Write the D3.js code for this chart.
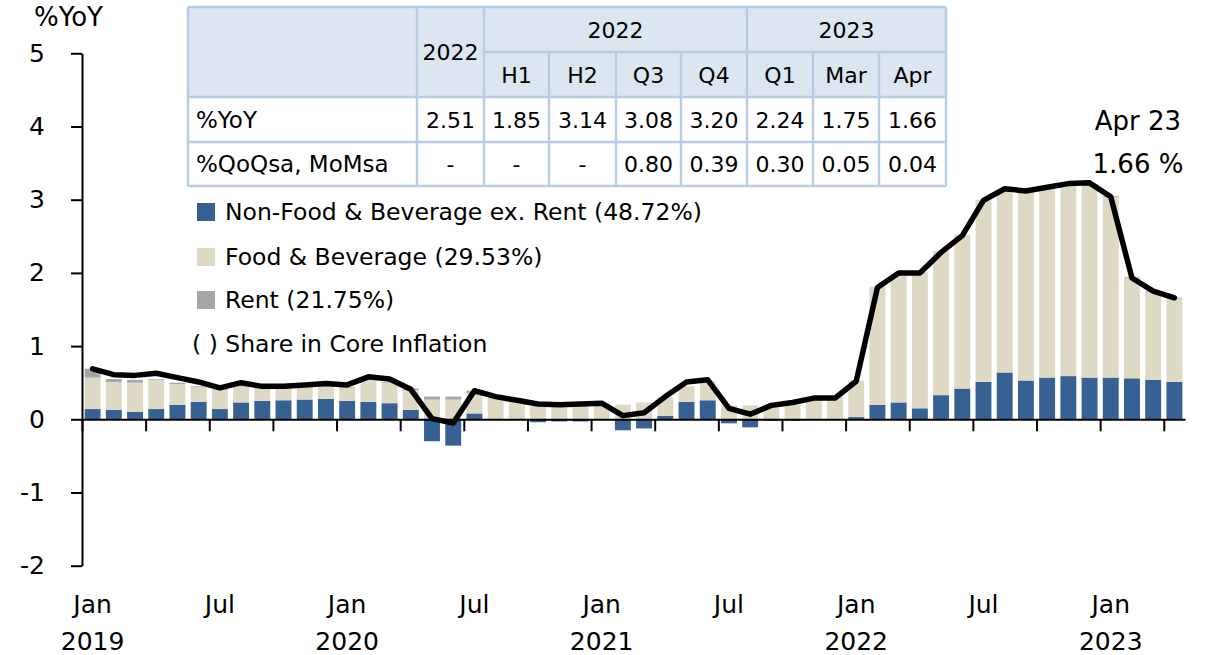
<!DOCTYPE html>
<html>
<head>
<meta charset="utf-8">
<script src="https://cdn.jsdelivr.net/npm/d3@7"></script>
<style>
  html, body { margin: 0; padding: 0; background: #ffffff; }
  svg { display: block; }
  text { font-family: "DejaVu Sans", "Noto Sans", sans-serif; fill: #000; }
</style>
</head>
<body>
<div id="chart"></div>
<script>
// ---------------- DATA ----------------
const months = [
  "Jan 2019","Feb 2019","Mar 2019","Apr 2019","May 2019","Jun 2019","Jul 2019","Aug 2019","Sep 2019","Oct 2019","Nov 2019","Dec 2019",
  "Jan 2020","Feb 2020","Mar 2020","Apr 2020","May 2020","Jun 2020","Jul 2020","Aug 2020","Sep 2020","Oct 2020","Nov 2020","Dec 2020",
  "Jan 2021","Feb 2021","Mar 2021","Apr 2021","May 2021","Jun 2021","Jul 2021","Aug 2021","Sep 2021","Oct 2021","Nov 2021","Dec 2021",
  "Jan 2022","Feb 2022","Mar 2022","Apr 2022","May 2022","Jun 2022","Jul 2022","Aug 2022","Sep 2022","Oct 2022","Nov 2022","Dec 2022",
  "Jan 2023","Feb 2023","Mar 2023","Apr 2023"
];
const nonFood = [
  0.14, 0.13, 0.10, 0.14, 0.20, 0.24, 0.14, 0.23, 0.25, 0.26, 0.27, 0.28,
  0.25, 0.24, 0.22, 0.13, -0.30, -0.36, 0.08, 0.00, -0.01, -0.04, -0.03, -0.03,
  0.00, -0.15, -0.125, 0.045, 0.24, 0.26, -0.055, -0.11, -0.02, -0.02, 0.00, 0.00,
  0.03, 0.20, 0.23, 0.15, 0.33, 0.42, 0.51, 0.64, 0.53, 0.57, 0.59, 0.57,
  0.57, 0.56, 0.54, 0.51
];
const food = [
  0.43, 0.38, 0.40, 0.40, 0.28, 0.20, 0.26, 0.22, 0.16, 0.16, 0.17, 0.17,
  0.18, 0.30, 0.28, 0.27, 0.27, 0.27, 0.28, 0.31, 0.27, 0.18, 0.18, 0.18,
  0.19, 0.20, 0.23, 0.26, 0.21, 0.26, 0.19, 0.19, 0.20, 0.20, 0.31, 0.31,
  0.50, 1.61, 1.74, 1.86, 1.97, 2.10, 2.49, 2.48, 2.58, 2.59, 2.61, 2.63,
  2.47, 1.37, 1.20, 1.14
];
const rent = [
  0.12, 0.04, 0.04, 0.01, 0.02, 0.01, 0.01, 0.01, 0.01, 0.01, 0.01, 0.01,
  0.01, 0.01, 0.01, 0.02, 0.04, 0.04, 0.03, 0.01, 0.01, 0.00, 0.00, 0.00,
  0.00, 0.00, 0.00, 0.00, 0.00, 0.00, 0.00, 0.00, 0.00, 0.00, 0.00, 0.00,
  0.00, 0.00, 0.00, 0.00, 0.00, 0.00, 0.00, 0.01, 0.01, 0.01, 0.01, 0.01,
  0.01, 0.01, 0.01, 0.01
];
const coreYoY = [
  0.69, 0.61, 0.60, 0.63, 0.57, 0.51, 0.43, 0.50, 0.45, 0.45, 0.47, 0.49,
  0.47, 0.58, 0.55, 0.41, 0.01, -0.05, 0.39, 0.31, 0.26, 0.21, 0.20, 0.21,
  0.22, 0.05, 0.09, 0.31, 0.51, 0.54, 0.15, 0.07, 0.19, 0.23, 0.29, 0.29,
  0.52, 1.80, 2.00, 2.00, 2.28, 2.51, 2.99, 3.15, 3.12, 3.17, 3.22, 3.23,
  3.04, 1.93, 1.75, 1.66
];
const seriesNames = ["Non-Food & Beverage ex. Rent (48.72%)", "Food & Beverage (29.53%)", "Rent (21.75%)"];
const seriesColors = ["#376192", "#ddd9c4", "#a6a6a6"];
const yTicks = [-2, -1, 0, 1, 2, 3, 4, 5];
const monthLabels = ["Jan", "Jul"];

// table
const tableRowLabels = ["%YoY", "%QoQsa, MoMsa"];
const tableYearGroups = [{label: "2022", span: 4}, {label: "2023", span: 3}];
const tableCols = ["2022", "H1", "H2", "Q3", "Q4", "Q1", "Mar", "Apr"];
const tableYoY = ["2.51", "1.85", "3.14", "3.08", "3.20", "2.24", "1.75", "1.66"];
const tableQoQ = ["-", "-", "-", "0.80", "0.39", "0.30", "0.05", "0.04"];

// ---------------- LAYOUT ----------------
const W = 1213, H = 655;
const plotLeft = 82, plotRight = 1185;
const svg = d3.select("#chart").append("svg").attr("width", W).attr("height", H);

const idx = months.map((d, i) => i);
const x = d3.scaleBand().domain(idx).range([plotLeft, plotRight]).paddingInner(0.25).paddingOuter(0.125);
const xb = d3.scaleLinear().domain([0, months.length]).range([plotLeft, plotRight]);
const y = d3.scaleLinear().domain([-2, 5]).range([565.7, 53.3]);

// stacked bars
const rows = idx.map(i => ({i, nf: nonFood[i], fb: food[i], rt: rent[i]}));
const stack = d3.stack().keys(["nf", "fb", "rt"]).offset(d3.stackOffsetDiverging);
const layers = stack(rows);
svg.append("g").selectAll("g").data(layers).join("g")
  .attr("fill", (d, k) => seriesColors[k])
  .selectAll("rect").data(d => d).join("rect")
  .attr("x", d => x(d.data.i))
  .attr("width", x.bandwidth())
  .attr("y", d => y(Math.max(d[0], d[1])))
  .attr("height", d => Math.abs(y(d[0]) - y(d[1])));

// y axis
const yAxis = svg.append("g").attr("transform", `translate(${plotLeft},0)`)
  .call(d3.axisLeft(y).tickValues(yTicks).tickSize(11).tickSizeOuter(0).tickPadding(26).tickFormat(d => String(d)));
yAxis.select(".domain").attr("stroke", "#000").attr("stroke-width", 2);
yAxis.selectAll(".tick line").attr("stroke", "#000").attr("stroke-width", 2);
yAxis.selectAll(".tick text").attr("font-size", 25).attr("font-family", "DejaVu Sans").attr("fill", "#000");

// x axis at zero
const xTickVals = d3.range(0, months.length, 3);
const xAxis = svg.append("g").attr("transform", `translate(0,${y(0)})`)
  .call(d3.axisBottom(xb).tickValues(xTickVals).tickSize(12).tickSizeOuter(0).tickFormat(""));
xAxis.select(".domain").attr("stroke", "#000").attr("stroke-width", 2);
xAxis.selectAll(".tick line").attr("stroke", "#000").attr("stroke-width", 2);

// x labels
const labelIdx = idx.filter(i => i % 6 === 0);
svg.append("g").selectAll("text").data(labelIdx).join("text")
  .attr("x", i => x(i) + x.bandwidth() / 2)
  .attr("y", 613)
  .attr("text-anchor", "middle")
  .attr("font-size", 25)
  .text(i => monthLabels[(i % 12) / 6]);
svg.append("g").selectAll("text").data(labelIdx.filter(i => i % 12 === 0)).join("text")
  .attr("x", i => x(i) + x.bandwidth() / 2)
  .attr("y", 650)
  .attr("text-anchor", "middle")
  .attr("font-size", 25)
  .text(i => months[i].split(" ")[1]);

// line
const line = d3.line().x((d, i) => x(i) + x.bandwidth() / 2).y(d => y(d));
svg.append("path").datum(coreYoY)
  .attr("fill", "none").attr("stroke", "#000").attr("stroke-width", 5.5)
  .attr("stroke-linejoin", "round").attr("stroke-linecap", "round")
  .attr("d", line);

// axis title
svg.append("text").attr("x", 34).attr("y", 26).attr("font-size", 26).text("%YoY");

// annotation
const last = months.length - 1;
svg.append("text").attr("x", 1138).attr("y", 130).attr("text-anchor", "middle").attr("font-size", 26).text("Apr 23");
svg.append("text").attr("x", 1138).attr("y", 173).attr("text-anchor", "middle").attr("font-size", 26)
  .text(coreYoY[last].toFixed(2) + " %");

// legend
const legend = svg.append("g");
const legY = [212, 257, 300];
seriesNames.forEach((name, k) => {
  legend.append("rect").attr("x", 197).attr("y", legY[k] - 9).attr("width", 18).attr("height", 18).attr("fill", seriesColors[k]);
  legend.append("text").attr("x", 225).attr("y", legY[k] + 8).attr("font-size", 23.5).text(name);
});
legend.append("text").attr("x", 192).attr("y", 352).attr("font-size", 23.5).text("( ) Share in Core Inflation");

// table
const tbl = svg.append("g");
const colX = [188, 417, 484, 549, 616, 681, 747, 813, 879, 946];
const rowY = [7, 52, 97, 142, 186];
const border = "#b8cce4", headFill = "#dce6f1";
tbl.append("rect").attr("x", colX[0]).attr("y", rowY[0]).attr("width", colX[9] - colX[0]).attr("height", rowY[2] - rowY[0]).attr("fill", headFill);
tbl.append("rect").attr("x", colX[0]).attr("y", rowY[2]).attr("width", colX[9] - colX[0]).attr("height", rowY[4] - rowY[2]).attr("fill", "#fff");
const gl = (x1, y1, x2, y2) => tbl.append("line").attr("x1", x1).attr("y1", y1).attr("x2", x2).attr("y2", y2).attr("stroke", border).attr("stroke-width", 2.5);
gl(colX[0], rowY[0], colX[9], rowY[0]);
gl(colX[2], rowY[1], colX[9], rowY[1]);
gl(colX[0], rowY[2], colX[9], rowY[2]);
gl(colX[0], rowY[3], colX[9], rowY[3]);
gl(colX[0], rowY[4], colX[9], rowY[4]);
gl(colX[0], rowY[0], colX[0], rowY[4]);
gl(colX[1], rowY[0], colX[1], rowY[4]);
gl(colX[2], rowY[0], colX[2], rowY[4]);
gl(colX[6], rowY[0], colX[6], rowY[4]);
gl(colX[9], rowY[0], colX[9], rowY[4]);
[3, 4, 5, 7, 8].forEach(c => gl(colX[c], rowY[1], colX[c], rowY[4]));
const fs = 22;
let c0 = 2;
tableYearGroups.forEach(g => {
  tbl.append("text").attr("x", (colX[c0] + colX[c0 + g.span]) / 2).attr("y", 38).attr("text-anchor", "middle").attr("font-size", fs).text(g.label);
  c0 += g.span;
});
tableCols.forEach((c, k) => {
  const cx = (colX[k + 1] + colX[k + 2]) / 2;
  tbl.append("text").attr("x", cx).attr("y", k === 0 ? 60 : 83).attr("text-anchor", "middle").attr("font-size", fs).text(c);
  tbl.append("text").attr("x", cx).attr("y", 128).attr("text-anchor", "middle").attr("font-size", fs).text(tableYoY[k]);
  tbl.append("text").attr("x", cx).attr("y", 172).attr("text-anchor", "middle").attr("font-size", fs).text(tableQoQ[k]);
});
tbl.append("text").attr("x", 196).attr("y", 128).attr("font-size", 23).text(tableRowLabels[0]);
tbl.append("text").attr("x", 196).attr("y", 172).attr("font-size", 23).text(tableRowLabels[1]);
</script>
</body>
</html>
